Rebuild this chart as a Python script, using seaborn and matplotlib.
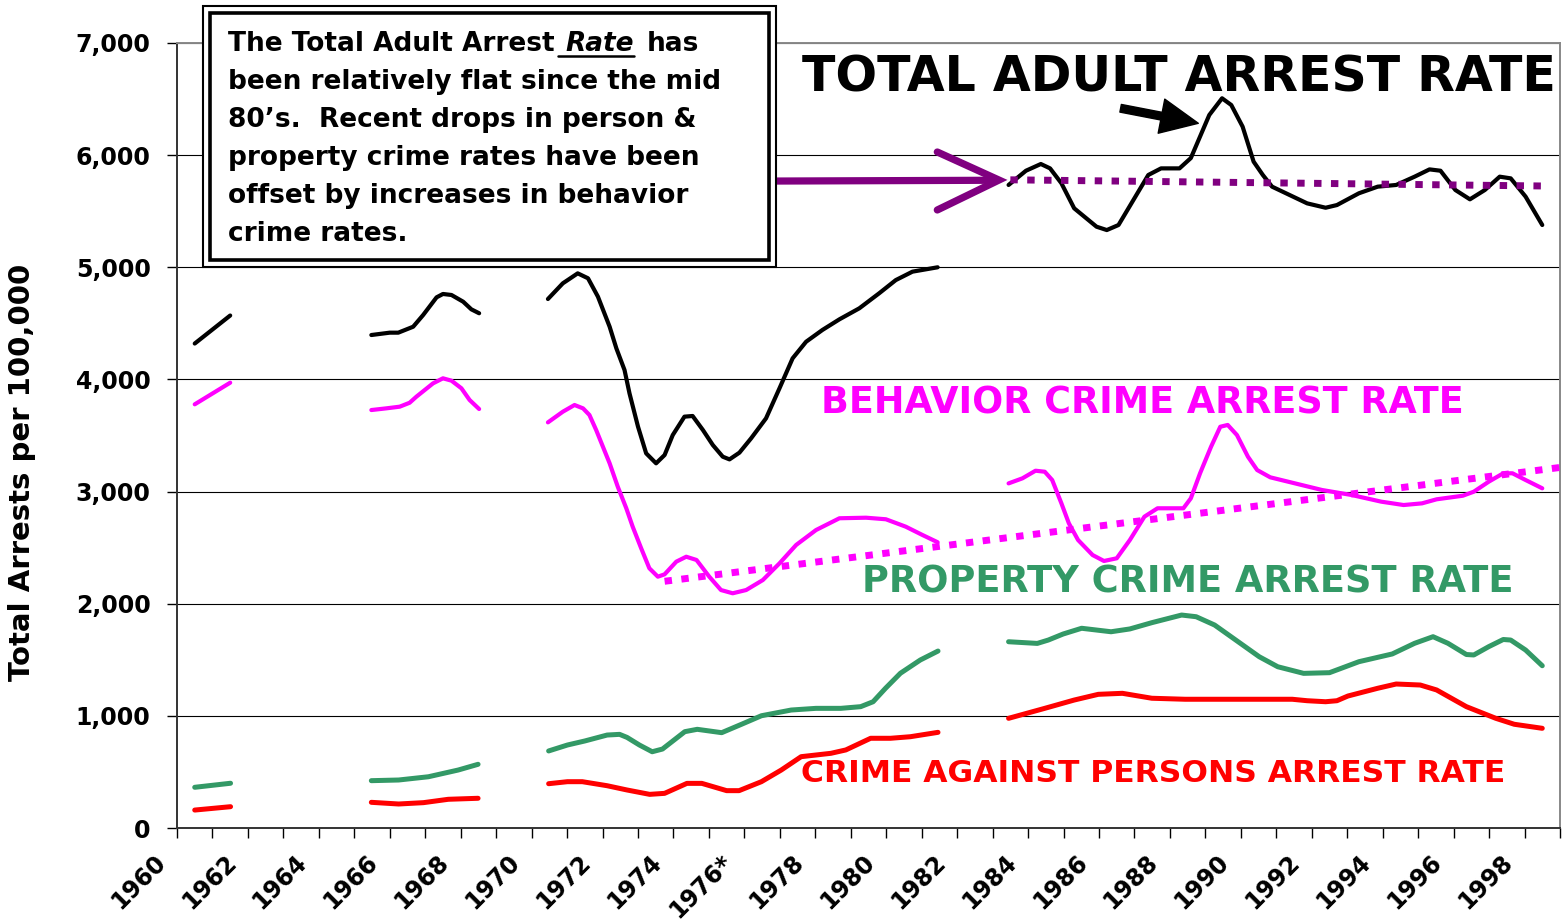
import numpy as np
import pandas as pd
import matplotlib
matplotlib.use("Agg")
import matplotlib.pyplot as plt
import matplotlib.transforms as mtransforms
import seaborn as sns
from matplotlib.patches import Rectangle
from matplotlib.lines import Line2D

# ---------------- data ----------------
total_years = [1960.5, 1961.5,
               1965.48, 1966.0, 1966.24, 1966.66, 1966.94, 1967.32, 1967.5, 1967.74, 1968.07, 1968.3, 1968.52,
               1970.46, 1970.88, 1971.3, 1971.59, 1971.87, 1972.2, 1972.39, 1972.62, 1972.76, 1973.0, 1973.23,
               1973.51, 1973.75, 1973.98, 1974.31, 1974.54, 1974.83, 1975.11, 1975.39, 1975.58, 1975.86, 1976.19,
               1976.61, 1976.99, 1977.36, 1977.74, 1978.2, 1978.68, 1979.24, 1979.8, 1980.27, 1980.74, 1981.45,
               1983.45, 1983.94, 1984.36, 1984.62, 1984.94, 1985.3, 1985.93, 1986.22, 1986.55, 1986.97, 1987.39,
               1987.75, 1988.27, 1988.59, 1989.11, 1989.47, 1989.73, 1990.05, 1990.36, 1990.62, 1990.88, 1991.87,
               1992.39, 1992.71, 1993.33, 1993.86, 1994.38, 1994.9, 1995.32, 1995.63, 1996.05, 1996.46, 1996.88,
               1997.3, 1997.61, 1998.03, 1998.5]
total_values = [4320, 4570,
                4396, 4417, 4417, 4470, 4574, 4732, 4762, 4753, 4693, 4625, 4590,
                4717, 4857, 4946, 4902, 4738, 4470, 4277, 4084, 3876, 3579, 3341,
                3252, 3326, 3504, 3668, 3674, 3549, 3415, 3311, 3287, 3347, 3475,
                3653, 3921, 4188, 4336, 4441, 4536, 4634, 4768, 4886, 4961, 5000,
                5734, 5861, 5921, 5882, 5749, 5526, 5362, 5332, 5377, 5600, 5823,
                5882, 5882, 5974, 6358, 6507, 6447, 6254, 5942, 5823, 5719, 5570,
                5531, 5555, 5660, 5719, 5734, 5808, 5873, 5861, 5689, 5606, 5689,
                5808, 5793, 5630, 5377]
total_segment = [0] * 2 + [1] * 11 + [2] * 33 + [3] * 37

behavior_years = [1960.5, 1961.5,
                  1965.48, 1965.9, 1966.28, 1966.56, 1966.75, 1967.22, 1967.5, 1967.74, 1968.02, 1968.25, 1968.52,
                  1970.46, 1970.88, 1971.21, 1971.45, 1971.63, 1971.82, 1972.2, 1972.43, 1972.67, 1972.85, 1973.09,
                  1973.32, 1973.56, 1973.75, 1974.08, 1974.36, 1974.65, 1975.01, 1975.34, 1975.67, 1976.05, 1976.52,
                  1976.99, 1977.46, 1978.02, 1978.68, 1979.43, 1979.99, 1980.55, 1981.02, 1981.45,
                  1983.45, 1983.84, 1984.21, 1984.47, 1984.68, 1984.94, 1985.15, 1985.41, 1985.82, 1986.14, 1986.5,
                  1986.87, 1987.28, 1987.65, 1987.91, 1988.38, 1988.59, 1988.85, 1989.16, 1989.42, 1989.63, 1989.89,
                  1990.2, 1990.46, 1990.83, 1991.45, 1992.29, 1993.13, 1993.96, 1994.59, 1995.11, 1995.52, 1996.26,
                  1996.57, 1996.99, 1997.4, 1997.66, 1998.03, 1998.5]
behavior_values = [3778, 3971,
                   3727, 3742, 3757, 3792, 3846, 3965, 4010, 3989, 3921, 3817, 3736,
                   3617, 3712, 3772, 3742, 3683, 3549, 3252, 3043, 2851, 2687, 2494,
                   2316, 2241, 2262, 2375, 2419, 2390, 2241, 2122, 2093, 2122, 2211,
                   2360, 2524, 2657, 2762, 2767, 2753, 2687, 2613, 2548,
                   3073, 3118, 3186, 3177, 3103, 2895, 2717, 2568, 2434, 2381, 2405,
                   2568, 2776, 2851, 2851, 2851, 2940, 3163, 3400, 3578, 3594, 3504,
                   3311, 3192, 3127, 3079, 3014, 2969, 2910, 2880, 2895, 2931, 2963,
                   2999, 3088, 3163, 3163, 3103, 3029]
behavior_segment = [0] * 2 + [1] * 11 + [2] * 31 + [3] * 39

property_years = [1960.5, 1961.51,
                  1965.48, 1966.25, 1967.09, 1967.93, 1968.49,
                  1970.48, 1971.01, 1971.5, 1972.13, 1972.48, 1972.69, 1973.04, 1973.4, 1973.69, 1974.32, 1974.67,
                  1975.36, 1975.92, 1976.48, 1977.32, 1978.02, 1978.72, 1979.28, 1979.63, 1979.98, 1980.4, 1980.96,
                  1981.46,
                  1983.45, 1984.26, 1984.57, 1984.99, 1985.51, 1986.34, 1986.87, 1987.49, 1988.33, 1988.74, 1989.26,
                  1989.79, 1990.52, 1991.04, 1991.77, 1992.5, 1993.33, 1994.27, 1994.9, 1995.42, 1995.84, 1996.36,
                  1996.57, 1996.99, 1997.4, 1997.61, 1998.03, 1998.5]
property_values = [363, 399,
                   422, 428, 457, 517, 568,
                   687, 740, 776, 829, 835, 808, 740, 680, 704, 859, 880,
                   850, 925, 1001, 1052, 1067, 1067, 1082, 1126, 1246, 1380, 1498,
                   1578,
                   1661, 1646, 1676, 1730, 1781, 1750, 1775, 1831, 1899, 1884, 1810,
                   1691, 1527, 1438, 1379, 1385, 1483, 1552, 1647, 1706, 1647, 1547,
                   1543, 1617, 1681, 1676, 1587, 1447]
property_segment = [0] * 2 + [1] * 5 + [2] * 23 + [3] * 28

persons_years = [1960.5, 1961.51,
                 1965.48, 1966.25, 1966.95, 1967.65, 1968.49,
                 1970.48, 1971.01, 1971.43, 1972.13, 1972.69, 1973.33, 1973.75, 1974.38, 1974.8, 1975.5, 1975.85,
                 1976.48, 1977.04, 1977.6, 1978.44, 1978.86, 1979.56, 1980.12, 1980.68, 1981.46,
                 1983.45, 1984.47, 1985.3, 1985.98, 1986.66, 1987.49, 1988.43, 1991.45, 1991.87, 1992.39, 1992.71,
                 1993.02, 1993.86, 1994.38, 1995.06, 1995.52, 1996.36, 1997.19, 1997.71, 1998.5]
persons_values = [160, 190,
                  229, 214, 226, 256, 265,
                  395, 413, 413, 377, 339, 300, 309, 398, 398, 333, 333,
                  413, 517, 636, 666, 696, 800, 800, 814, 853,
                  978, 1067, 1141, 1192, 1201, 1157, 1148, 1148, 1135, 1126, 1135,
                  1177, 1246, 1284, 1275, 1231, 1082, 978, 925, 889]
persons_segment = [0] * 2 + [1] * 5 + [2] * 20 + [3] * 20

total_trend_years = [1983.5, 1998.5]
total_trend_values = [5780, 5725]
behavior_trend_years = [1973.75, 1999.0]
behavior_trend_values = [2200, 3215]

tick_years = list(range(1960, 2000))
tick_labels = [("1976*" if y == 1976 else str(y)) if y % 2 == 0 else "" for y in tick_years]
y_ticks = [0, 1000, 2000, 3000, 4000, 5000, 6000, 7000]
y_tick_labels = ["0", "1,000", "2,000", "3,000", "4,000", "5,000", "6,000", "7,000"]

box_lines = ["been relatively flat since the mid",
             "80\u2019s.  Recent drops in person &",
             "property crime rates have been",
             "offset by increases in behavior",
             "crime rates."]

# ---------------- figure ----------------
sns.set_style("white")
plt.rcParams["font.family"] = ["DejaVu Sans"]
plt.rcParams["text.color"] = "black"
plt.rcParams["xtick.color"] = "black"
plt.rcParams["ytick.color"] = "black"

W, H = 1568, 922
fig = plt.figure(figsize=(W / 100, H / 100), dpi=100)
fig.patch.set_facecolor("white")
ax = fig.add_axes([177 / W, 1 - 828 / H, (1560 - 177) / W, (828 - 43) / H])


def seg_frame(xs, ys, segs):
    return pd.DataFrame({"year": xs, "value": ys, "seg": segs})


series = [
    (total_years, total_values, total_segment, "#000000", 3.0),
    (behavior_years, behavior_values, behavior_segment, "#FF00FF", 3.0),
    (property_years, property_values, property_segment, "#339966", 3.6),
    (persons_years, persons_values, persons_segment, "#FF0000", 3.6),
]
for xs, ys, segs, col, lw in series:
    sns.lineplot(data=seg_frame(xs, ys, segs), x="year", y="value", units="seg",
                 estimator=None, color=col, linewidth=lw, ax=ax, legend=False, zorder=3)

sns.lineplot(x=total_trend_years, y=total_trend_values, color="#800080", linewidth=5.0, ax=ax, zorder=3)
ax.lines[-1].set_linestyle((0, (1.07, 1.36)))
ax.lines[-1].set_dash_capstyle("butt")
sns.lineplot(x=behavior_trend_years, y=behavior_trend_values, color="#FF00FF", linewidth=5.0, ax=ax, zorder=3)
ax.lines[-1].set_linestyle((0, (1.07, 1.36)))
ax.lines[-1].set_dash_capstyle("butt")

ax.set_xlim(1960, 1999)
ax.set_ylim(0, 7000)
ax.set_xticks(tick_years)
ax.set_xticklabels(tick_labels, rotation=45, ha="right", va="top",
                   fontsize=17, fontweight="bold", color="black")
ax.set_yticks(y_ticks)
ax.set_yticklabels(y_tick_labels, fontsize=17, fontweight="bold", color="black")
ax.tick_params(axis="x", length=7, width=1.0, direction="out", pad=9, colors="black", bottom=True)
ax.tick_params(axis="y", length=7, width=1.0, direction="out", pad=12, colors="black", left=True)
shift = mtransforms.ScaledTranslation(-0.07, 0, fig.dpi_scale_trans)
for lab in ax.get_xticklabels():
    lab.set_transform(lab.get_transform() + shift)
ax.set_xlabel("")
ax.set_ylabel("")
ax.yaxis.grid(True, color="black", linewidth=0.8)
ax.xaxis.grid(False)
ax.set_axisbelow(True)
for side in ["left", "bottom"]:
    ax.spines[side].set_color("#333333")
    ax.spines[side].set_linewidth(1.4)
for side in ["top", "right"]:
    ax.spines[side].set_color("#888888")
    ax.spines[side].set_linewidth(1.4)
    ax.spines[side].set_visible(True)

# series labels
ax.text(1977.63, 6566, "TOTAL ADULT ARREST RATE", fontsize=35.3, fontweight="bold",
        color="black", ha="left", va="baseline", zorder=6)
ax.text(1978.17, 3698, "BEHAVIOR CRIME ARREST RATE", fontsize=26.3, fontweight="bold",
        color="#FF00FF", ha="left", va="baseline", zorder=6)
ax.text(1979.32, 2102, "PROPERTY CRIME ARREST RATE", fontsize=26.5, fontweight="bold",
        color="#339966", ha="left", va="baseline", zorder=6)
ax.text(1977.61, 413, "CRIME AGAINST PERSONS ARREST RATE", fontsize=22.6, fontweight="bold",
        color="#FF0000", ha="left", va="baseline", zorder=6)

# black arrow pointing to the 1989 peak
ax.annotate("", xy=(1988.80, 6284), xytext=(1986.61, 6418),
            arrowprops=dict(arrowstyle="simple,head_length=1.35,head_width=1.25,tail_width=0.28",
                            color="black", shrinkA=0, shrinkB=0, mutation_scale=20), zorder=6)

# purple arrow from the text box to the flat recent period
ax.plot([1976.87, 1983.05], [5769, 5776], color="#800080", linewidth=5.2,
        solid_capstyle="butt", zorder=6, clip_on=False)
ax.plot([1981.44, 1983.18, 1981.44], [6028, 5778, 5511], color="#800080", linewidth=5.2,
        solid_capstyle="round", solid_joinstyle="miter", zorder=6)

# y label
fig.text(22 / W, 1 - 472 / H, "Total Arrests per 100,000", rotation=90, fontsize=21,
         fontweight="bold", ha="center", va="center", color="black")

# text box (double border)
fig.patches.append(Rectangle((203 / W, 1 - 267 / H), (776 - 203) / W, (267 - 6) / H,
                             transform=fig.transFigure, facecolor="white", edgecolor="black",
                             linewidth=1.5, zorder=10))
fig.patches.append(Rectangle((210 / W, 1 - 260 / H), (769 - 210) / W, (260 - 13) / H,
                             transform=fig.transFigure, facecolor="none", edgecolor="black",
                             linewidth=2.6, zorder=11))

fs_box = 19
x0 = 228
base0 = 50.7
step = 38.0
renderer = fig.canvas.get_renderer()
t1 = fig.text(x0 / W, 1 - base0 / H, "The Total Adult Arrest", fontsize=fs_box, fontweight="bold",
              ha="left", va="baseline", zorder=12, color="black")
bb1 = t1.get_window_extent(renderer)
space_px = 0.40 * fs_box * 100 / 72
rate_x = bb1.x1 + space_px
t2 = fig.text(rate_x / W, 1 - base0 / H, "Rate", fontsize=fs_box, fontweight="bold", style="italic",
              ha="left", va="baseline", zorder=12, color="black")
bb2 = t2.get_window_extent(renderer)
ul_y = 1 - (base0 + 5.5) / H
fig.lines.append(Line2D([(bb1.x1 + 3) / W, bb2.x1 / W], [ul_y, ul_y], transform=fig.transFigure,
                        color="black", linewidth=1.8, zorder=12))
fig.text((bb2.x1 + space_px + 3) / W, 1 - base0 / H, "has", fontsize=fs_box, fontweight="bold",
         ha="left", va="baseline", zorder=12, color="black")
for i, line in enumerate(box_lines):
    fig.text(x0 / W, 1 - (base0 + step * (i + 1)) / H, line, fontsize=fs_box, fontweight="bold",
             ha="left", va="baseline", zorder=12, color="black")

fig.savefig("out.png", dpi=100, facecolor="white")
